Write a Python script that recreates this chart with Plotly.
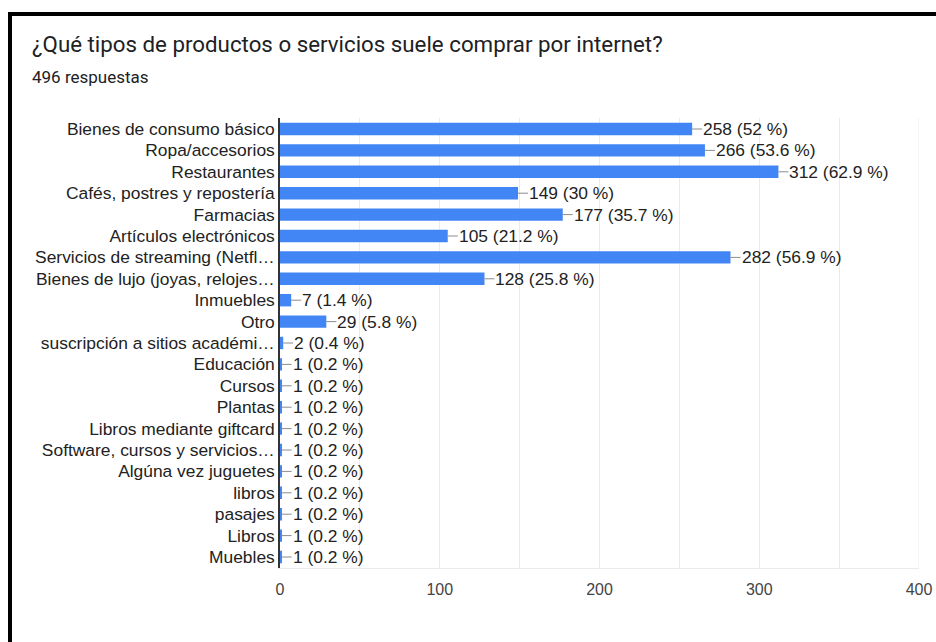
import plotly.graph_objects as go

# Survey results: products/services usually bought online
categories = [
    "Bienes de consumo básico",
    "Ropa/accesorios",
    "Restaurantes",
    "Cafés, postres y repostería",
    "Farmacias",
    "Artículos electrónicos",
    "Servicios de streaming (Netfl…",
    "Bienes de lujo (joyas, relojes…",
    "Inmuebles",
    "Otro",
    "suscripción a sitios académi…",
    "Educación",
    "Cursos",
    "Plantas",
    "Libros mediante giftcard",
    "Software, cursos y servicios…",
    "Algúna vez juguetes",
    "libros",
    "pasajes",
    "Libros",
    "Muebles",
]
counts = [258, 266, 312, 149, 177, 105, 282, 128, 7, 29, 2,
          1, 1, 1, 1, 1, 1, 1, 1, 1, 1]
total_responses = 496
x_ticks = [0, 100, 200, 300, 400]

title_text = "¿Qué tipos de productos o servicios suele comprar por internet?"
subtitle_text = f"{total_responses} respuestas"

BAR_COLOR = "#4285f4"
W, H = 936, 642
L, R, T, B = 280, 17, 118, 74
X_MAX = 400
LEADER_PX = 10  # length of the leader line between a bar and its label
LABEL_SIZE = 17.4


def pct_label(v):
    p = round(v / total_responses * 100, 1)
    s = f"{p:.1f}"
    if s.endswith(".0"):
        s = s[:-2]
    return f"{v} ({s} %)"


units_per_px = X_MAX / (W - L - R)

fig = go.Figure()
fig.add_trace(go.Bar(
    x=counts,
    y=categories,
    orientation="h",
    marker=dict(color=BAR_COLOR, line=dict(width=0)),
    # leader line drawn as a one-sided error bar without caps
    error_x=dict(type="constant", value=LEADER_PX * units_per_px,
                 symmetric=False, valueminus=0,
                 color="#8c8c8c", thickness=1, width=0),
    hoverinfo="skip",
))

# value labels
for cat, v in zip(categories, counts):
    fig.add_annotation(
        x=v, y=cat, xref="x", yref="y",
        text=pct_label(v),
        showarrow=False, xanchor="left", yanchor="middle",
        xshift=LEADER_PX, borderpad=0,
        font=dict(family="Liberation Sans, Arial, sans-serif", size=LABEL_SIZE, color="#222222"),
    )

# heading and response count
px_to_x = lambda px: (px - L) / (W - L - R)
px_to_y = lambda py: (H - B - py) / (H - T - B)
fig.add_annotation(
    x=px_to_x(30), y=px_to_y(44), xref="paper", yref="paper",
    text=title_text, showarrow=False, xanchor="left", yanchor="middle",
    font=dict(family="Roboto, Arial, sans-serif", size=22.3, color="#202124"),
)
fig.add_annotation(
    x=px_to_x(30), y=px_to_y(77), xref="paper", yref="paper",
    text=subtitle_text, showarrow=False, xanchor="left", yanchor="middle",
    font=dict(family="Roboto, Arial, sans-serif", size=17, color="#202124"),
)

# frame lines along the left and top edges
fig.add_shape(type="line", xref="paper", yref="paper",
              x0=px_to_x(10), x1=px_to_x(10), y0=px_to_y(H), y1=px_to_y(12),
              line=dict(color="black", width=4))
fig.add_shape(type="line", xref="paper", yref="paper",
              x0=px_to_x(8), x1=px_to_x(W), y0=px_to_y(14), y1=px_to_y(14),
              line=dict(color="black", width=4))
# right edge gridline of the plot area
fig.add_shape(type="line", xref="x", yref="paper",
              x0=X_MAX, x1=X_MAX, y0=0, y1=1,
              line=dict(color="#ebebeb", width=1), layer="below")

fig.update_layout(
    width=W, height=H,
    margin=dict(l=L, r=R, t=T, b=B, pad=0, autoexpand=False),
    paper_bgcolor="white", plot_bgcolor="white",
    showlegend=False,
    bargap=0.42,
    font=dict(family="Liberation Sans, Arial, sans-serif", size=LABEL_SIZE, color="#222222"),
)
fig.update_xaxes(
    range=[0, X_MAX],
    tickvals=x_ticks,
    ticktext=[str(t) for t in x_ticks],
    tickfont=dict(size=16, color="#444444"),
    showgrid=True, gridcolor="#ebebeb", gridwidth=1,
    minor=dict(dtick=50, showgrid=True, gridcolor="#ebebeb", gridwidth=1),
    zeroline=False,
    showline=True, linecolor="#ebebeb", linewidth=1,
    ticks="outside", ticklen=7, tickcolor="rgba(0,0,0,0)",
    automargin=False,
    fixedrange=True,
)
fig.update_yaxes(
    autorange="reversed",
    type="category",
    showgrid=False,
    showline=True, linecolor="#333333", linewidth=1.5,
    ticks="", automargin=False,
    tickfont=dict(size=LABEL_SIZE, color="#222222"),
    ticklabelstandoff=0,
    fixedrange=True,
)

fig.write_html("out.html")
